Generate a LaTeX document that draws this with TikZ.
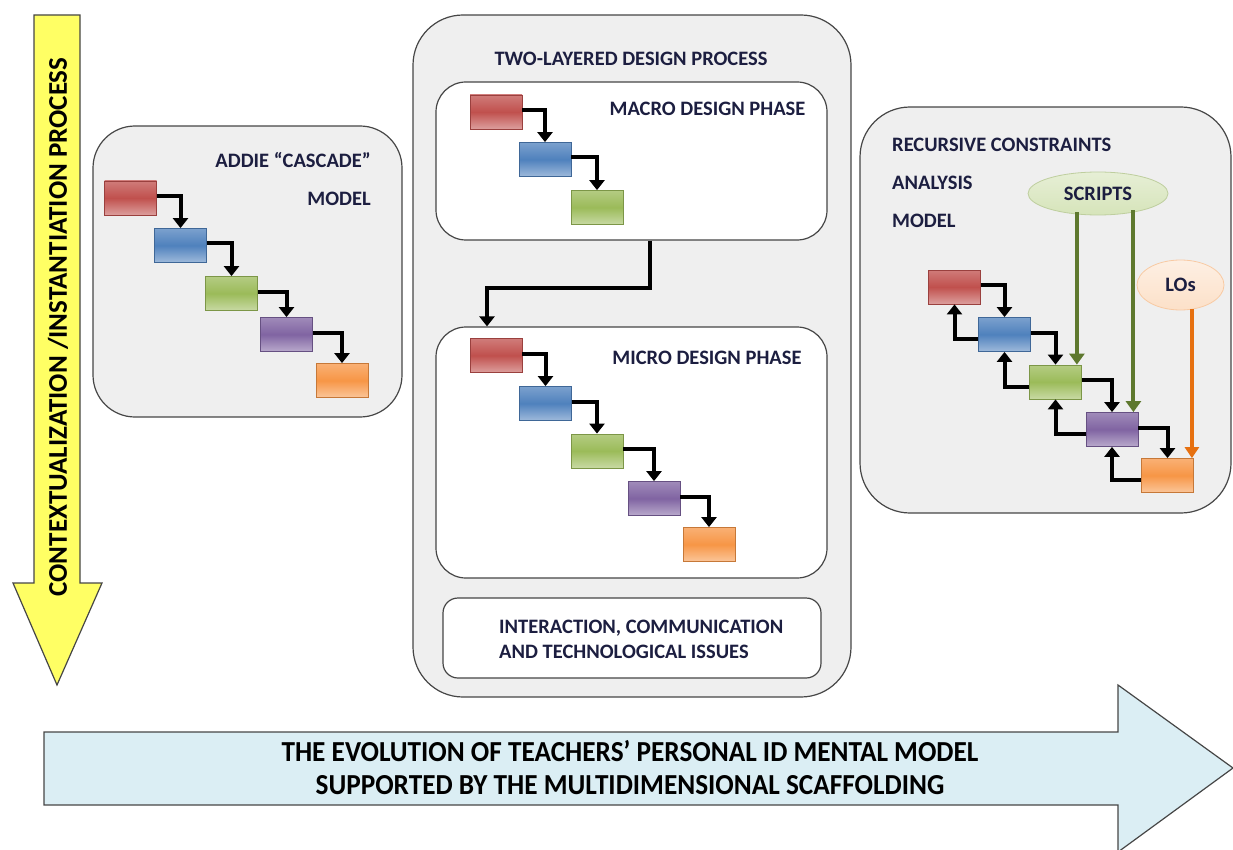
\documentclass[tikz,border=0pt]{standalone}
\usepackage{fontspec}
\setmainfont{Carlito}
\usetikzlibrary{arrows.meta,shapes.geometric,calc}
\definecolor{navy}{RGB}{28,30,64}
\definecolor{panel}{RGB}{239,239,239}
\definecolor{edge}{RGB}{70,70,70}
\definecolor{cred}{RGB}{192,80,77}
\definecolor{cblue}{RGB}{79,129,189}
\definecolor{cgreen}{RGB}{155,187,89}
\definecolor{cpurple}{RGB}{128,100,162}
\definecolor{corange}{RGB}{247,150,70}
\definecolor{olive}{RGB}{94,120,46}
\definecolor{darkorange}{RGB}{230,112,16}
\definecolor{yel}{RGB}{255,255,100}
\definecolor{lblue}{RGB}{219,238,244}
\definecolor{sgreen}{RGB}{214,228,186}
\definecolor{sorange}{RGB}{252,224,200}
\tikzset{
  lbl/.style={text=navy, font=\bfseries\fontsize{20.5}{24}\selectfont, inner sep=0pt},
  container/.style={draw=edge, line width=1.2pt, fill=panel, rounded corners=42pt},
  whitebox/.style={draw=edge, line width=1.2pt, fill=white, rounded corners=30pt},
  stepbox/.style={minimum width=52pt, minimum height=34pt, inner sep=0pt,
    draw=#1!80!black, line width=0.8pt, top color=#1!75!white, bottom color=#1!55!white, middle color=#1},
  flow/.style={line width=4pt, black, -{Triangle[length=10pt,width=15pt]}},
  gflow/.style={line width=4pt, olive, -{Triangle[length=11pt,width=15pt]}},
  oflow/.style={line width=3.5pt, darkorange, -{Triangle[length=11pt,width=14pt]}},
}
\begin{document}
\begin{tikzpicture}[x=1pt,y=-1pt]
\useasboundingbox (0,0) rectangle (1233,850);

% yellow vertical arrow
\draw[draw=edge, line width=1.2pt, fill=yel, line join=miter]
  (34,15) -- (80,15) -- (80,583) -- (102,583) -- (57,685) -- (13,583) -- (34,583) -- cycle;
\node[rotate=90, text=black, font=\bfseries\fontsize{27}{30}\selectfont, inner sep=0pt] (ctx) at (58,327)
  {CONTEXTUALIZATION /INSTANTIATION PROCESS};

% bottom blue arrow
\draw[draw=edge, line width=1.2pt, fill=lblue, line join=miter]
  (44,732) -- (1118,732) -- (1118,685) -- (1233,768) -- (1118,852) -- (1118,805) -- (44,805) -- cycle;
\node[text=black, font=\bfseries\fontsize{29}{33}\selectfont, align=center, inner sep=0pt] (evo) at (630,768)
  {\scalebox{0.94}[1]{THE EVOLUTION OF TEACHERS’ PERSONAL ID MENTAL MODEL}\\
   \scalebox{0.94}[1]{SUPPORTED BY THE MULTIDIMENSIONAL SCAFFOLDING}};

% ADDIE panel
\node[container, minimum width=309pt, minimum height=291pt] (addie) at (247.5,271.5) {};
\node[lbl, anchor=east] (addiet) at (371,160) {ADDIE “CASCADE”};
\node[lbl, anchor=east] (addiem) at (371,199) {MODEL};
\node[stepbox=cred]    (a1) at (130.5,198) {};
\node[stepbox=cblue]   (a2) at (180.5,245.5) {};
\node[stepbox=cgreen]  (a3) at (231.5,293.5) {};
\node[stepbox=cpurple] (a4) at (286.5,334.5) {};
\node[stepbox=corange] (a5) at (342,380.5) {};
\foreach \i/\j in {a1/a2,a2/a3,a3/a4,a4/a5}
  \draw[flow] ([yshift=2pt]\i.east) -| (\j.north);

% middle panel
\node[container, rounded corners=50pt, minimum width=438pt, minimum height=682pt] (two) at (632,356) {};
\node[lbl] (twot) at (631,59) {TWO-LAYERED DESIGN PROCESS};
\node[whitebox, minimum width=391pt, minimum height=158pt] (macro) at (631.5,161) {};
\node[lbl] (macrot) at (707.5,109) {MACRO DESIGN PHASE};
\node[stepbox=cred]   (m1) at (496,112) {};
\node[stepbox=cblue]  (m2) at (545,159.5) {};
\node[stepbox=cgreen] (m3) at (597,207.5) {};
\draw[flow] ([yshift=2pt]m1.east) -| (m2.north);
\draw[flow] ([yshift=2pt]m2.east) -| (m3.north);

\node[whitebox, minimum width=391pt, minimum height=251pt] (micro) at (631.5,452.5) {};
\node[lbl] (microt) at (707,358) {MICRO DESIGN PHASE};
\node[stepbox=cred]    (u1) at (496,355.5) {};
\node[stepbox=cblue]   (u2) at (545.5,403.5) {};
\node[stepbox=cgreen]  (u3) at (597,451) {};
\node[stepbox=cpurple] (u4) at (654,498.5) {};
\node[stepbox=corange] (u5) at (709,544.5) {};
\foreach \i/\j in {u1/u2,u2/u3,u3/u4,u4/u5}
  \draw[flow] ([yshift=2pt]\i.east) -| (\j.north);
\draw[flow] ([xshift=18.5pt]macro.south) -- ++(0,47) -| ([xshift=-144.5pt]micro.north);

\node[whitebox, rounded corners=15pt, minimum width=378pt, minimum height=80pt] (inter) at (632,638) {};
\node[lbl, anchor=west, align=left, font=\bfseries\fontsize{20.5}{25}\selectfont] (intert) at (499,639)
  {INTERACTION, COMMUNICATION\\AND TECHNOLOGICAL ISSUES};

% right panel
\node[container, rounded corners=50pt, minimum width=371pt, minimum height=406pt] (rec) at (1045.5,310) {};
\node[lbl, anchor=west] (rect1) at (892,145) {RECURSIVE CONSTRAINTS};
\node[lbl, anchor=west] (rect2) at (892,183) {ANALYSIS};
\node[lbl, anchor=west] (rect3) at (892,221) {MODEL};
\node[stepbox=cred]    (r1) at (954.5,287) {};
\node[stepbox=cblue]   (r2) at (1004.5,334.5) {};
\node[stepbox=cgreen]  (r3) at (1055.5,382) {};
\node[stepbox=cpurple] (r4) at (1112,429.5) {};
\node[stepbox=corange] (r5) at (1167.5,475.5) {};
\foreach \i/\j in {r1/r2,r2/r3,r3/r4,r4/r5}
  \draw[flow] ([yshift=2pt]\i.east) -| (\j.north);
\foreach \i/\j in {r2/r1,r3/r2,r4/r3,r5/r4}
  \draw[flow] ([yshift=-4.5pt]\i.west) -| (\j.south);

\node[ellipse, draw=sgreen!80!olive, line width=0.8pt, top color=sgreen!60!white, bottom color=sgreen, minimum width=140pt, minimum height=43pt, inner sep=0pt,
  text=navy, font=\bfseries\fontsize{20.5}{24}\selectfont] (scripts) at (1098,193.5) {SCRIPTS};
\node[ellipse, draw=sorange!80!darkorange, line width=0.8pt, top color=sorange!50!white, bottom color=sorange, minimum width=87pt, minimum height=50pt, inner sep=0pt,
  text=navy, font=\bfseries\fontsize{20.5}{24}\selectfont] (los) at (1180.5,285) {LOs};
\coordinate (g1) at ([xshift=-5pt]r3.north east);
\coordinate (g2) at ([xshift=-5pt]r4.north east);
\coordinate (o1) at ([xshift=-2pt]r5.north east);
\draw[gflow] ([yshift=3pt]scripts.south -| g1) -- (g1);
\draw[gflow] ([yshift=5pt]scripts.south -| g2) -- (g2);
\draw[oflow] ([yshift=1pt]los.south -| o1) -- (o1);
\end{tikzpicture}
\end{document}
